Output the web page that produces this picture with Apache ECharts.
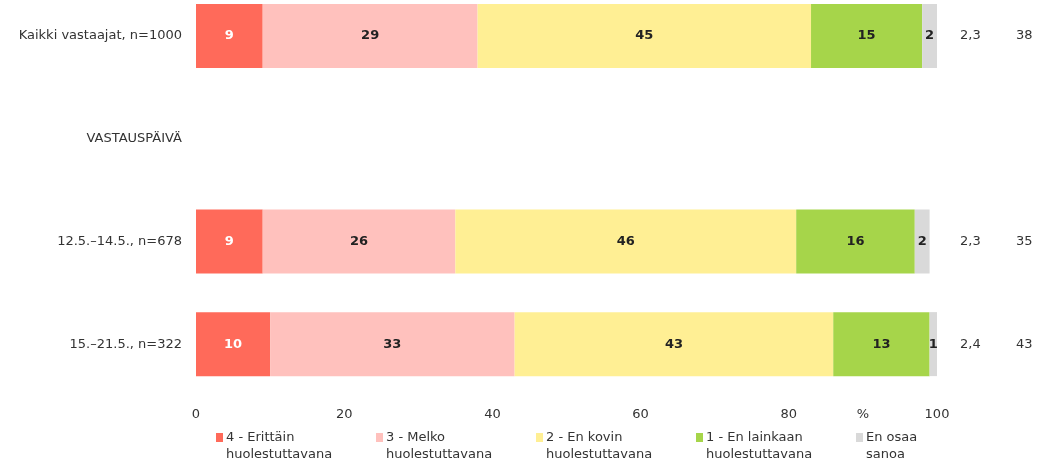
<!DOCTYPE html>
<html><head><meta charset="utf-8">
<script src="https://cdn.jsdelivr.net/npm/echarts@6/dist/echarts.min.js"></script>
<style>html,body{margin:0;padding:0;background:#fff}#c{width:1046px;height:466px}</style>
</head><body><div id="c"></div>
<script>
const categories = ['Kaikki vastaajat, n=1000', 'VASTAUSPÄIVÄ', '12.5.–14.5., n=678', '15.–21.5., n=322'];
const seriesNames = ['4 - Erittäin\nhuolestuttavana', '3 - Melko\nhuolestuttavana', '2 - En kovin\nhuolestuttavana', '1 - En lainkaan\nhuolestuttavana', 'En osaa\nsanoa'];
const erittain = [9, null, 9, 10];
const melko = [29, null, 26, 33];
const enKovin = [45, null, 46, 43];
const enLainkaan = [15, null, 16, 13];
const enOsaa = [2, null, 2, 1];
const meanValues = ['2,3', '', '2,3', '2,4'];
const concernShare = ['38', '', '35', '43'];
const xTicks = [0, 20, 40, 60, 80, 100];
const colors = ['#FF6A5A', '#FFC1BD', '#FFEF94', '#A6D54A', '#D9D9D9'];
const labelColors = ['#ffffff', '#222222', '#222222', '#222222', '#222222'];

const FONT = '"DejaVu Sans", "Noto Sans", sans-serif';
const values = [erittain, melko, enKovin, enLainkaan, enOsaa];

const chart = echarts.init(document.getElementById('c'));
chart.setOption({
  animation: false,
  textStyle: { fontFamily: FONT },
  grid: { left: 196, right: 109, top: -15.5, height: 411, containLabel: false, outerBoundsMode: 'none' },
  legend: {
    left: 211, top: 407, itemGap: 0, itemWidth: 7, itemHeight: 9,
    icon: 'rect',
    formatter: name => ' \n' + name,
    textStyle: { fontFamily: FONT, fontSize: 13, color: '#333', width: 150, lineHeight: 17, padding: [0,0,0,-2] },
    data: seriesNames
  },
  xAxis: [{
    type: 'value', min: 0, max: 100, interval: 20, position: 'bottom',
    axisLine: { show: false }, axisTick: { show: false }, splitLine: { show: false },
    axisLabel: { fontSize: 13, color: '#333', margin: 13,
      formatter: v => xTicks.includes(v) ? String(v) : '' }
  }, {
    type: 'value', min: 0, max: 100, interval: 10, position: 'bottom',
    axisLine: { show: false }, axisTick: { show: false }, splitLine: { show: false },
    axisLabel: { fontSize: 13, color: '#333', margin: 13,
      formatter: v => v === 90 ? '%' : '' }
  }],
  yAxis: [{
    type: 'category', data: categories, inverse: true,
    axisLine: { show: false }, axisTick: { show: false },
    axisLabel: { fontSize: 13, color: '#333', margin: 14 }
  }, {
    type: 'category', data: categories, inverse: true, position: 'right',
    axisLine: { show: false }, axisTick: { show: false },
    axisLabel: { margin: 23, color: '#333',
      formatter: (v, i) => meanValues[i] ? '{m|' + meanValues[i] + '}{n|' + concernShare[i] + '}' : '',
      rich: { m: { width: 56, fontSize: 13, color: '#333', align: 'left' }, n: { fontSize: 13, color: '#333' } }
    }
  }],
  series: values.map((arr, k) => ({
    name: seriesNames[k], type: 'bar', stack: 'total', data: arr,
    barWidth: 64, xAxisIndex: 0, yAxisIndex: 0,
    itemStyle: { color: colors[k] },
    label: { show: true, position: 'inside', color: labelColors[k], fontSize: 13, fontWeight: 'bold',
      formatter: p => p.value == null ? '' : String(p.value) }
  }))
});
</script></body></html>
